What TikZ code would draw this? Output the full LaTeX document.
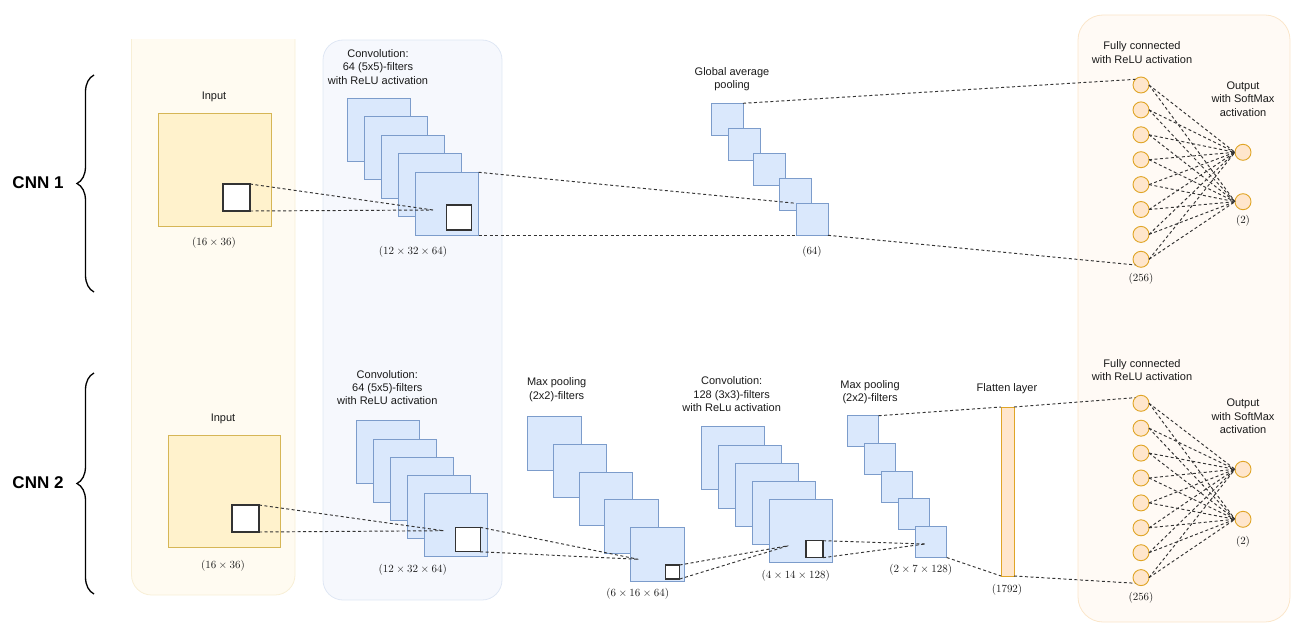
\documentclass[tikz,border=0pt]{standalone}
\usepackage{fontspec}
\setmainfont{Liberation Sans}
\usetikzlibrary{decorations.pathreplacing}
\definecolor{txt}{HTML}{1A1A1A}
\definecolor{bfill}{HTML}{DAE8FC}
\definecolor{bdraw}{HTML}{7C9CCB}
\definecolor{yfill}{HTML}{FFF2CC}
\definecolor{ydraw}{HTML}{D6B656}
\definecolor{ofill}{HTML}{FFE6CC}
\definecolor{odraw}{HTML}{E0A526}
\definecolor{pyfill}{HTML}{FFFBF1}
\definecolor{pydraw}{HTML}{F8EFD6}
\definecolor{pbfill}{HTML}{F6F8FD}
\definecolor{pbdraw}{HTML}{DFE7F4}
\definecolor{pofill}{HTML}{FFFAF5}
\definecolor{podraw}{HTML}{FBE6CA}
\definecolor{dl}{HTML}{333333}
\tikzset{
  bsq/.style={draw=bdraw, fill=bfill, line width=0.9pt, inner sep=0pt, outer sep=0pt, anchor=north west},
  wsq/.style={draw=dl, fill=white, line width=1.1pt, inner sep=0pt, outer sep=0pt, anchor=north west},
  insq/.style={draw=ydraw, fill=yfill, line width=0.9pt, inner sep=0pt, outer sep=0pt, anchor=north west},
  neuron/.style={circle, draw=odraw, fill=ofill, line width=0.9pt, minimum size=16pt, inner sep=0pt, outer sep=0pt},
  conn/.style={draw=dl, dash pattern=on 3pt off 2.5pt, line width=0.95pt},
  lab/.style={font=\fontsize{11}{13.3}\selectfont, align=center, text=txt, inner sep=0pt},
  dimlab/.style={font=\fontsize{11}{13}\selectfont, text=txt, inner sep=0pt},
  cnnlab/.style={font=\fontsize{17}{20}\selectfont\bfseries, text=black, inner sep=0pt},
  panel/.style={rounded corners=#1, line width=0.8pt, anchor=north west, inner sep=0pt, outer sep=0pt}
}
\begin{document}
\begin{tikzpicture}[x=1pt, y=-1pt]
\useasboundingbox (0,0) rectangle (1296,623);

% ---------- panels ----------
\begin{scope}
  \clip (0,40) rectangle (1296,623);
  \node[panel=20pt, draw=pydraw, fill=pyfill, minimum width=163.5pt, minimum height=585pt] (pin) at (131.5,10) {};
\end{scope}
\node[panel=20pt, draw=pbdraw, fill=pbfill, minimum width=179pt, minimum height=560pt] (pconv) at (323,40) {};
\node[panel=25pt, draw=podraw, fill=pofill, minimum width=212pt, minimum height=607pt] (pfc) at (1078,15) {};

% ---------- braces ----------
\coordinate (bA1) at (94,292);
\coordinate (bA2) at (94,75);
\coordinate (bB1) at (94,594);
\coordinate (bB2) at (94,373);
\draw[line width=1.3pt, decorate, decoration={brace, amplitude=17pt}] (bA1) -- (bA2);
\draw[line width=1.3pt, decorate, decoration={brace, amplitude=17pt}] (bB1) -- (bB2);
\node[cnnlab] (cnn1) at (38,183) {CNN 1};
\node[cnnlab] (cnn2) at (38,483) {CNN 2};

% ================= CNN 1 =================
\node[insq, minimum size=113pt] (inA) at (158,113) {};
\node[wsq, minimum size=27pt] (wI1) at (223,184) {};
\node[lab] (tInA) at (214,97) {Input};
\node[dimlab] (dInA) at (214,243) {$(16\times 36)$};

\node[bsq, minimum size=63pt] (cA1) at (347.3,98.3) {};
\node[bsq, minimum size=63pt] (cA2) at (364.4,116.8) {};
\node[bsq, minimum size=63pt] (cA3) at (381.5,135.3) {};
\node[bsq, minimum size=63pt] (cA4) at (398.6,153.8) {};
\node[bsq, minimum size=63pt] (cA5) at (415.7,172.3) {};
\node[wsq, minimum size=25pt] (wA) at (446.7,205) {};
\node[lab] (tcA) at (378,67) {Convolution:\\64 (5x5)-filters\\with ReLU activation};
\node[dimlab] (dcA) at (413,252) {$(12\times 32\times 64)$};

\node[bsq, minimum size=32pt] (gA1) at (711,103.3) {};
\node[bsq, minimum size=32pt] (gA2) at (728,128.3) {};
\node[bsq, minimum size=32pt] (gA3) at (753,153.3) {};
\node[bsq, minimum size=32pt] (gA4) at (779,178.3) {};
\node[bsq, minimum size=32pt] (gA5) at (796,203.3) {};
\node[lab] (tgA) at (732,79.5) {Global average\\pooling};
\node[dimlab] (dgA) at (812,252) {$(64)$};

\foreach \i/\y in {1/85,2/109.9,3/134.8,4/159.7,5/184.6,6/209.5,7/234.4,8/259.3}
  \node[neuron] (f\i) at (1141,\y) {};
\node[neuron] (o1) at (1243,152.3) {};
\node[neuron] (o2) at (1243,201.7) {};
\node[lab] (tfA) at (1142,52.5) {Fully connected\\with ReLU activation};
\node[lab] (toA) at (1243,99) {Output\\with SoftMax\\activation};
\node[dimlab] (dfA) at (1141,279) {$(256)$};
\node[dimlab] (doA) at (1243,221) {$(2)$};

% connectors CNN 1
\coordinate (kA) at (433,210);
\draw[conn] (wI1.north east) -- (kA);
\draw[conn] (wI1.south east) -- (kA);
\draw[conn] (cA5.north east) -- (gA5.north west);
\draw[conn] (cA5.south east) -- (gA5.south west);
\draw[conn] (gA1.north east) -- (f1.135);
\draw[conn] (gA5.south east) -- (f8.225);
\foreach \i in {1,...,8}{
  \draw[conn] (f\i.east) -- (o1.west);
  \draw[conn] (f\i.east) -- (o2.west);
}

% ================= CNN 2 =================
\node[insq, minimum size=112pt] (inB) at (168,435) {};
\node[wsq, minimum size=27pt] (wI2) at (232,505) {};
\node[lab] (tInB) at (223,419) {Input};
\node[dimlab] (dInB) at (223,566) {$(16\times 36)$};

\node[bsq, minimum size=63pt] (cB1) at (356.7,420.7) {};
\node[bsq, minimum size=63pt] (cB2) at (373.7,439) {};
\node[bsq, minimum size=63pt] (cB3) at (390.7,457.3) {};
\node[bsq, minimum size=63pt] (cB4) at (407.7,475.6) {};
\node[bsq, minimum size=63pt] (cB5) at (424.7,493.9) {};
\node[wsq, minimum size=24.5pt] (wB) at (455.7,527.3) {};
\node[lab] (tcB) at (387.3,387.7) {Convolution:\\64 (5x5)-filters\\with ReLU activation};
\node[dimlab] (dcB) at (412.7,570) {$(12\times 32\times 64)$};

\node[bsq, minimum size=53.5pt] (mA1) at (527.7,416.7) {};
\node[bsq, minimum size=53.5pt] (mA2) at (553.4,444.4) {};
\node[bsq, minimum size=53.5pt] (mA3) at (579.1,472.1) {};
\node[bsq, minimum size=53.5pt] (mA4) at (604.8,499.8) {};
\node[bsq, minimum size=53.5pt] (mA5) at (630.5,527.5) {};
\node[wsq, minimum size=14pt] (wM) at (665.7,565) {};
\node[lab] (tmA) at (556.7,389.7) {Max pooling\\(2x2)-filters};
\node[dimlab] (dmA) at (637.7,594) {$(6\times 16\times 64)$};

\node[bsq, minimum size=63pt] (dA1) at (701,426.7) {};
\node[bsq, minimum size=63pt] (dA2) at (718,445) {};
\node[bsq, minimum size=63pt] (dA3) at (735,463.3) {};
\node[bsq, minimum size=63pt] (dA4) at (752,481.6) {};
\node[bsq, minimum size=63pt] (dA5) at (769,499.9) {};
\node[wsq, minimum size=17pt] (wD) at (806,540.7) {};
\node[lab] (tdA) at (731.7,394.3) {Convolution:\\128 (3x3)-filters\\with ReLu activation};
\node[dimlab] (ddA) at (795.7,575.7) {$(4\times 14\times 128)$};

\node[bsq, minimum size=31pt] (eA1) at (847.7,415.7) {};
\node[bsq, minimum size=31pt] (eA2) at (864.7,443.4) {};
\node[bsq, minimum size=31pt] (eA3) at (881.7,471.1) {};
\node[bsq, minimum size=31pt] (eA4) at (898.7,498.8) {};
\node[bsq, minimum size=31pt] (eA5) at (915.7,526.5) {};
\node[lab] (teA) at (870,392.5) {Max pooling\\(2x2)-filters};
\node[dimlab] (deA) at (920.7,570) {$(2\times 7\times 128)$};

\node[draw=odraw, fill=ofill, line width=0.9pt, inner sep=0pt, outer sep=0pt, anchor=north west, minimum width=13pt, minimum height=169pt] (fl) at (1001,407) {};
\node[lab] (tfl) at (1007,388.3) {Flatten layer};
\node[dimlab] (dfl) at (1007,590) {$(1792)$};

\foreach \i/\y in {1/403.3,2/428.2,3/453.1,4/478,5/502.9,6/527.8,7/552.7,8/577.6}
  \node[neuron] (g\i) at (1141,\y) {};
\node[neuron] (p1) at (1243,469.3) {};
\node[neuron] (p2) at (1243,519.3) {};
\node[lab] (tfB) at (1142,370.3) {Fully connected\\with ReLU activation};
\node[lab] (toB) at (1243,416.5) {Output\\with SoftMax\\activation};
\node[dimlab] (dfB) at (1141,597.7) {$(256)$};
\node[dimlab] (doB) at (1243,541.7) {$(2)$};

% connectors CNN 2
\coordinate (kB) at (443.3,530.7);
\coordinate (kC) at (638.3,559.3);
\coordinate (kD) at (788.3,545.7);
\coordinate (kE) at (925,544);
\draw[conn] (wI2.north east) -- (kB);
\draw[conn] (wI2.south east) -- (kB);
\draw[conn] (wB.north east) -- (kC);
\draw[conn] (wB.south east) -- (kC);
\draw[conn] (wM.north east) -- (kD);
\draw[conn] (wM.south east) -- (kD);
\draw[conn] (wD.north east) -- (kE);
\draw[conn] (wD.south east) -- (kE);
\draw[conn] (eA1.north east) -- (fl.north west);
\draw[conn] (eA5.south east) -- (fl.south west);
\draw[conn] (fl.north east) -- (g1.135);
\draw[conn] (fl.south east) -- (g8.225);
\foreach \i in {1,...,8}{
  \draw[conn] (g\i.east) -- (p1.west);
  \draw[conn] (g\i.east) -- (p2.west);
}
\end{tikzpicture}
\end{document}
